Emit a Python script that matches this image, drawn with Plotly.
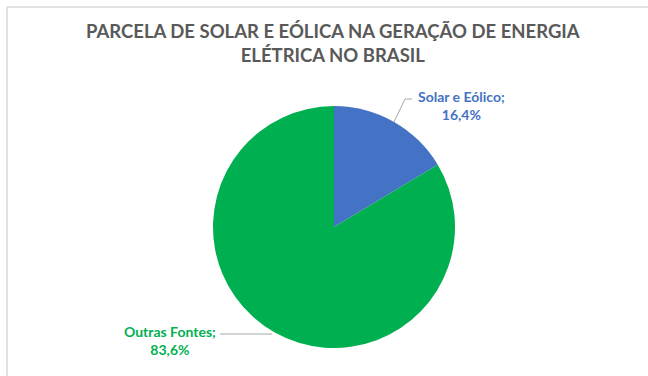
import plotly.graph_objects as go

# Share of electricity generation in Brazil (%)
categories = ["Solar e Eólico", "Outras Fontes"]
shares = [16.4, 83.6]
colors = ["#4472C4", "#00B050"]
title_lines = ["PARCELA DE SOLAR E EÓLICA NA GERAÇÃO DE ENERGIA", "ELÉTRICA NO BRASIL"]

W, H = 648, 376
cx, cy, r = 334, 227, 121  # pie centre and radius in pixels


def px(x):
    return x / W


def py(y):
    return 1 - y / H


def pct(v):
    return f"{v:.1f}".replace(".", ",") + "%"


fig = go.Figure(
    go.Pie(
        labels=categories,
        values=shares,
        sort=False,
        direction="clockwise",
        rotation=0,
        marker=dict(colors=colors, line=dict(width=0)),
        textinfo="none",
        hoverinfo="label+percent",
        showlegend=False,
        domain=dict(x=[px(cx - r), px(cx + r)], y=[py(cy + r), py(cy - r)]),
    )
)

font_family = "Lato, 'Open Sans', sans-serif"

annotations = [
    dict(
        text="<br>".join(title_lines),
        x=px(333), y=py(43), xref="paper", yref="paper",
        xanchor="center", yanchor="middle", showarrow=False,
        font=dict(family=font_family, size=18.5, color="#595959", weight="bold"),
    ),
    dict(
        text=f"{categories[0]};<br>{pct(shares[0])}",
        x=px(461), y=py(105), xref="paper", yref="paper",
        xanchor="center", yanchor="middle", showarrow=False,
        font=dict(family=font_family, size=14, color=colors[0], weight="bold"),
    ),
    dict(
        text=f"{categories[1]};<br>{pct(shares[1])}",
        x=px(170), y=py(340), xref="paper", yref="paper",
        xanchor="center", yanchor="middle", showarrow=False,
        font=dict(family=font_family, size=14, color=colors[1], weight="bold"),
    ),
]

frame = dict(color="#D9D9D9", width=1.5)
leader = dict(color="#A6A6A6", width=1)
shapes = [
    # chart area border (top and left)
    dict(type="line", xref="paper", yref="paper", x0=px(7), y0=py(7), x1=1, y1=py(7), line=frame),
    dict(type="line", xref="paper", yref="paper", x0=px(7), y0=py(7), x1=px(7), y1=0, line=frame),
    # leader lines
    dict(type="path", xref="paper", yref="paper",
         path=f"M {px(412)} {py(99)} L {px(405)} {py(99)} L {px(394)} {py(122)}", line=leader),
    dict(type="line", xref="paper", yref="paper", x0=px(220), y0=py(334), x1=px(272), y1=py(334), line=leader),
]

fig.update_layout(
    width=W, height=H,
    margin=dict(l=0, r=0, t=0, b=0),
    paper_bgcolor="white",
    plot_bgcolor="white",
    annotations=annotations,
    shapes=shapes,
)

fig.write_html("out.html")
